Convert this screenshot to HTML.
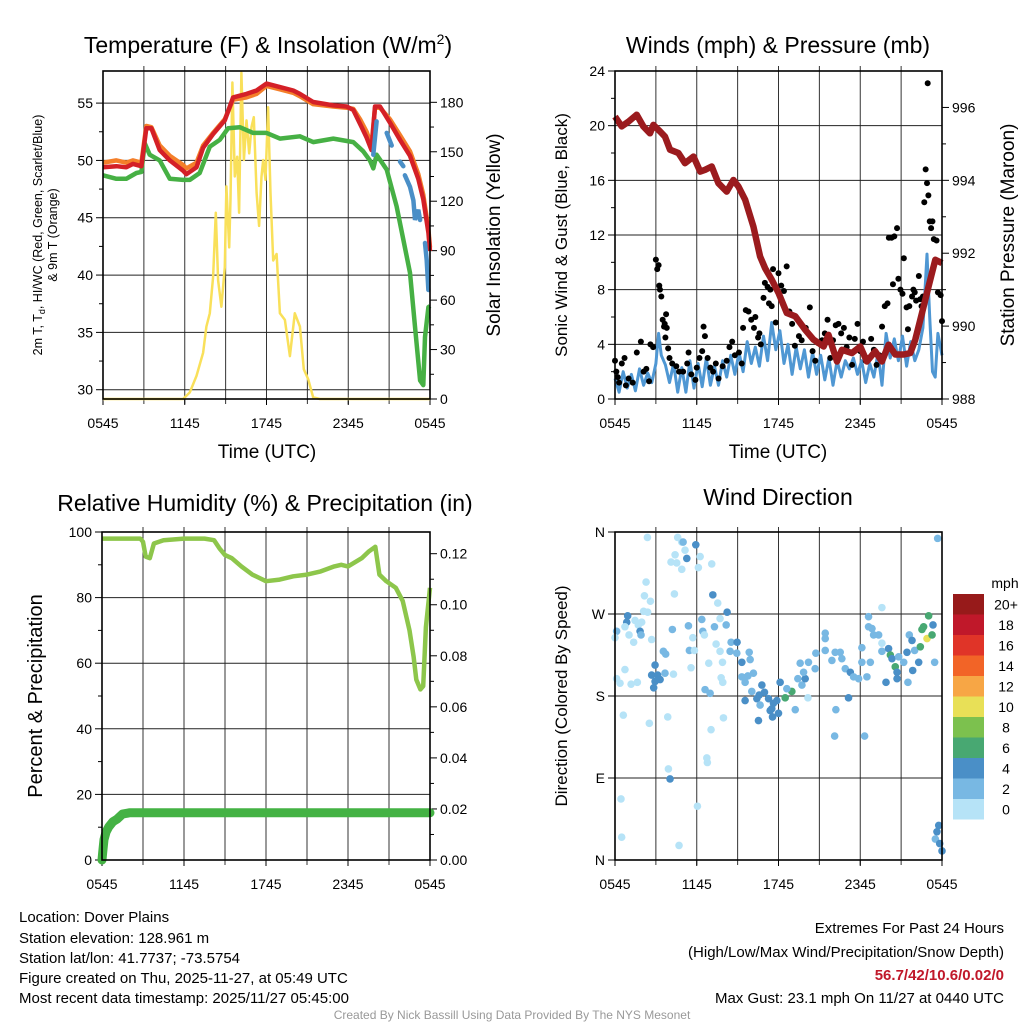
<!DOCTYPE html>
<html><head><meta charset="utf-8">
<style>
html,body{margin:0;padding:0;background:#fff;}
svg{display:block;font-family:"Liberation Sans",Arial,sans-serif;}
</style></head>
<body>
<svg id="chart" width="1024" height="1024" viewBox="0 0 1024 1024" xmlns="http://www.w3.org/2000/svg">
<rect width="1024" height="1024" fill="#fff"/>
<g id="layer"></g>
<text x="268" y="53" font-size="23" text-anchor="middle">Temperature (F) &amp; Insolation (W/m<tspan dy="-9" font-size="14">2</tspan><tspan dy="9">)</tspan></text>
<text x="778" y="53" font-size="23" text-anchor="middle">Winds (mph) &amp; Pressure (mb)</text>
<text x="265" y="511" font-size="23" text-anchor="middle">Relative Humidity (%) &amp; Precipitation (in)</text>
<text x="778" y="505" font-size="23" text-anchor="middle">Wind Direction</text>
<text x="267" y="458" font-size="19" text-anchor="middle">Time (UTC)</text>
<text x="778" y="458" font-size="19" text-anchor="middle">Time (UTC)</text>
<text transform="translate(42,235) rotate(-90)" font-size="12.5" text-anchor="middle">2m T, T<tspan dy="3" font-size="9">d</tspan><tspan dy="-3">, HI/WC (Red, Green, Scarlet/Blue)</tspan></text>
<text transform="translate(57,235) rotate(-90)" font-size="12.5" text-anchor="middle">&amp; 9m T (Orange)</text>
<text transform="translate(500,235) rotate(-90)" font-size="19" text-anchor="middle">Solar Insolation (Yellow)</text>
<text transform="translate(567,235) rotate(-90)" font-size="17" text-anchor="middle">Sonic Wind &amp; Gust (Blue, Black)</text>
<text transform="translate(1014,235) rotate(-90)" font-size="19" text-anchor="middle">Station Pressure (Maroon)</text>
<text transform="translate(42,696) rotate(-90)" font-size="20" text-anchor="middle">Percent &amp; Precipitation</text>
<text transform="translate(567,696) rotate(-90)" font-size="17" text-anchor="middle">Direction (Colored By Speed)</text>
<g font-size="15">
<text x="19" y="922">Location: Dover Plains</text>
<text x="19" y="943">Station elevation: 128.961 m</text>
<text x="19" y="963">Station lat/lon: 41.7737; -73.5754</text>
<text x="19" y="983">Figure created on Thu, 2025-11-27, at 05:49 UTC</text>
<text x="19" y="1003">Most recent data timestamp: 2025/11/27 05:45:00</text>
</g>
<g font-size="15" text-anchor="end">
<text x="1004" y="933">Extremes For Past 24 Hours</text>
<text x="1004" y="957">(High/Low/Max Wind/Precipitation/Snow Depth)</text>
<text x="1004" y="980" fill="#c0182a" font-weight="bold">56.7/42/10.6/0.02/0</text>
<text x="1004" y="1003">Max Gust: 23.1 mph On 11/27 at 0440 UTC</text>
</g>
<text x="512" y="1019" font-size="12" fill="#999" text-anchor="middle">Created By Nick Bassill Using Data Provided By The NYS Mesonet</text>
</svg>
<script>
// ---- data (hours after 0545 UTC) ----
const redH=[0,0.98,1.71,2.2,2.82,3.18,3.55,4.16,4.9,5.88,6.12,6.86,7.35,8.08,8.94,9.55,10.53,11.27,12,12.98,13.96,14.45,15.43,16.9,17.88,18.37,18.86,19.35,19.71,19.96,20.33,21.06,21.8,22.53,23.14,23.51,23.88,24];
const redT=[49.4,49.5,49.4,49.7,49.5,52.8,52.8,50.9,50.0,49.1,48.8,49.4,51.1,52.3,53.5,55.5,55.8,56.1,56.7,56.4,56.1,55.8,55.1,54.8,54.7,54.4,53.2,52.0,50.9,54.7,54.7,53.3,51.8,50.4,48.4,46.6,43.7,42.1];
const orangeT=[49.8,50.0,49.8,50.0,49.8,53.0,52.9,51.3,50.4,49.6,49.3,49.8,51.3,52.4,53.6,55.3,55.5,55.8,56.5,56.2,55.9,55.6,54.9,54.7,54.6,54.5,53.6,52.5,51.3,54.6,54.6,53.6,52.2,50.8,48.8,47.0,44.0,42.4];
const greenH=[0,0.98,1.71,2.45,2.82,3.06,3.43,4.16,4.9,5.88,6.37,7.1,7.84,8.57,9.18,10.04,11.02,12,12.98,14.45,15.43,16.9,18.37,19.1,19.59,19.84,20.08,20.82,21.55,22.04,22.53,22.9,23.27,23.51,23.63,23.88,24];
const greenT=[48.7,48.4,48.4,48.9,49.0,51.5,50.5,50.0,48.4,48.3,48.3,48.9,51.2,51.8,52.8,52.9,52.4,52.4,51.9,52.1,51.6,51.9,51.6,50.8,50.0,49.3,50.5,49.2,46.0,43.1,40.2,35.5,30.8,30.4,34.6,37.2,37.3];
const blueH=[19.84,20.08,null,20.82,21.19,null,21.8,22.04,null,22.16,22.53,22.78,22.9,23.14,23.27,null,23.63,23.76,23.88];
const blueT=[50.5,53.4,null,52.4,51.3,null,49.9,49.5,null,48.7,47.7,46.5,44.8,45.7,44.8,null,42.8,41.3,38.7];
const solarH=[0,5.88,6.37,6.86,7.35,7.59,7.84,8.08,8.28,8.45,8.69,8.94,9.06,9.26,9.36,9.5,9.67,9.85,9.99,10.16,10.34,10.53,10.73,10.9,11.07,11.27,11.46,11.63,11.76,11.93,12.12,12.29,12.49,12.74,12.98,13.35,13.72,14.08,14.45,14.74,15.06,15.43,15.92,24];
const solarW=[0,0,4,14,28,44,52,74,113,72,56,80,129,92,121,192,135,147,113,198,145,169,149,165,171,125,105,135,145,133,177,125,84,88,52,48,26,52,44,18,12,1,0,0];
const windH=[0,0.3,0.6,0.9,1.2,1.5,1.8,2.1,2.4,2.7,3.0,3.2,3.4,3.7,4.0,4.3,4.6,4.9,5.2,5.5,5.8,6.1,6.4,6.7,7.0,7.3,7.6,7.9,8.2,8.5,8.8,9.1,9.4,9.7,10.0,10.3,10.6,10.9,11.2,11.5,11.8,12.1,12.4,12.7,13,13.3,13.6,13.9,14.2,14.5,14.8,15.1,15.4,15.7,16,16.3,16.6,16.9,17.2,17.5,17.8,18.1,18.4,18.7,19,19.3,19.6,19.9,20.2,20.5,20.8,21.1,21.4,21.7,22,22.3,22.6,22.9,23.1,23.3,23.5,23.7,24];
const windS=[1.5,0.5,2,0.8,1.8,0.6,2.2,1.0,1.9,1.2,2.6,4.8,3.2,2.5,1.2,2.6,0.5,2.3,0.5,2.8,0.8,2.6,0.9,3.0,1.0,2.4,1.0,2.8,1.6,3.2,1.8,3.4,2.0,4.2,2.6,3.8,2.4,4.6,2.8,5.6,3.6,5.0,2.6,4.0,1.8,3.8,2.2,3.6,1.6,3.4,1.8,3.2,1.4,3.0,1.0,2.8,1.6,2.8,2.2,3.0,1.8,2.8,1.2,2.6,1.6,3.4,1.0,4.8,3.0,4.4,2.8,4.6,2.4,4.2,2.8,3.6,5.2,10.6,6.0,2.0,1.6,4.8,3.2];
const gustH=[0.0,0.1,0.2,0.3,0.5,0.7,0.8,1.0,1.3,1.6,1.9,2.1,2.3,2.5,2.6,2.8,3.0,3.1,3.2,3.25,3.3,3.4,3.5,3.6,3.65,3.7,3.75,3.8,3.9,4.0,4.2,4.5,4.7,5.0,5.3,5.4,5.6,5.9,6.0,6.2,6.4,6.5,6.6,6.8,7.0,7.2,7.4,7.6,7.9,8.2,8.4,8.6,8.8,9.1,9.3,9.4,9.6,9.8,10.0,10.2,10.3,10.5,10.6,10.7,10.9,11.0,11.2,11.3,11.4,11.5,11.6,11.8,12.0,12.2,12.4,12.6,12.8,13.0,13.2,13.5,13.7,14.0,14.3,14.5,14.7,14.9,15.2,15.4,15.6,15.8,16.0,16.2,16.4,16.6,16.8,17.0,17.2,17.4,17.6,17.8,18.0,18.2,18.4,18.6,18.8,19.0,19.2,19.4,19.6,19.8,20.0,20.1,20.3,20.4,20.5,20.7,20.8,20.95,21.1,21.2,21.4,21.5,21.6,21.8,21.9,22.0,22.1,22.3,22.4,22.5,22.6,22.7,22.8,22.9,22.95,23.0,23.1,23.2,23.3,23.4,23.6,23.7,23.9,24.0];
const gustS=[2.8,2.0,1.6,1.2,2.6,3.0,1.0,1.5,1.2,3.4,4.2,2.0,2.2,1.3,4.0,3.8,10.2,9.5,9.8,8.3,8.0,7.5,5.8,5.3,5.5,4.5,6.2,5.2,3.7,3.0,2.6,2.4,2.0,2.0,2.6,3.4,1.8,1.4,2.3,3.0,3.5,5.3,4.6,3.0,2.3,2.0,2.6,1.5,2.4,2.8,3.8,4.2,3.2,3.4,2.6,5.2,6.5,6.4,5.8,5.2,6.0,4.5,4.8,4.0,7.4,8.5,8.2,7.0,8.0,6.8,9.5,5.6,9.2,8.3,7.9,9.7,6.4,5.5,3.9,4.6,4.3,5.2,6.7,3.5,2.8,4.1,4.3,4.8,5.8,3.0,4.3,5.4,5.5,4.8,5.2,3.8,4.5,2.5,4.4,5.5,3.5,4.2,2.8,3.0,4.4,3.6,2.5,3.2,5.3,6.8,7.0,11.8,11.8,8.4,11.9,12.5,8.8,8.0,7.7,10.3,6.7,5.1,6.8,7.5,8.0,7.8,7.2,9.0,7.3,6.8,7.5,14.4,16.8,15.8,23.1,14.9,13.0,12.5,13.0,11.7,11.6,7.8,7.6,5.7];
const presH=[0,0.49,0.98,1.59,2.08,2.57,2.82,3.31,3.67,4.04,4.65,5.14,5.76,6.25,6.61,7.1,7.59,8.2,8.69,9.06,9.55,10.16,10.65,11.02,11.51,12,12.61,13.23,13.96,14.57,15.31,15.67,16.29,16.65,17.39,18,18.49,19.1,19.59,20.08,20.57,21.19,21.67,22.04,22.53,23.02,23.51,24];
const presMb=[995.75,995.48,995.61,995.8,995.48,995.29,995.52,995.34,995.2,994.84,994.75,994.47,994.65,994.24,994.29,994.38,993.92,993.69,994.01,993.83,993.47,992.73,991.91,991.59,991.27,990.91,990.36,990.27,989.9,989.63,989.44,989.76,989.03,989.35,989.26,989.44,989.03,989.31,989.03,989.49,989.22,989.22,989.26,989.63,990.36,991.09,991.82,991.73];
const rhH=[0,1,2,2.8,3.0,3.2,3.5,3.8,4.5,6,7.5,8.2,8.6,9,9.5,10.2,11,11.5,12,13,14,15,16,17,17.5,18,19,19.5,20,20.3,20.8,21.5,22,22.5,22.8,23,23.3,23.5,23.7,24];
const rhP=[98,98,98,98,97,92.5,92,96.5,97.5,98,98,97.5,95,93,92,89.5,87,86,85,85.5,86.5,87,88,89.5,90,89.5,92,94,95.5,87,85,83,79,70,62,55,52,53,71,83];
const precH=[0,0.05,0.15,0.3,0.5,0.8,1.1,1.5,2.0,24];
const precIn=[0,0.003,0.008,0.011,0.013,0.015,0.016,0.018,0.0185,0.0185];
const dirH=[2.38,4.6,4.9,5.14,5.0,5.93,4.41,5.27,6.25,4.11,4.53,4.9,6.12,7.1,2.28,4.36,2.16,2.6,7.18,7.54,8.23,2.4,2.1,0.93,0.86,1.47,1.96,0.73,1.71,0.12,0,1.03,1.84,1.91,1.37,2.69,4.21,5.39,6.37,7.3,7.71,8.16,6.44,6.56,5.71,7.42,8.52,8.96,8.45,8.94,5.46,5.83,3.55,3.72,7.71,9.31,9.85,9.92,2.94,6.88,7.89,5.58,0.73,2.69,3.13,3.31,3.67,4.29,2.94,0.12,0.37,1.18,1.64,2.84,7.79,7.91,9.31,9.75,10.16,9.55,6.61,6.98,10.04,10.41,10.58,9.55,10.78,10.97,11.27,11.63,12.12,11.88,11.51,11.39,12.0,11.56,10.53,10.65,12.49,12.98,12.61,13.23,13.42,13.72,13.96,14.16,13.84,13.59,14.2,14.69,14.74,15.43,15.43,15.43,15.92,16.16,16.53,16.65,16.9,17.27,17.51,17.88,18.12,18.12,18.49,18.74,19.59,18.61,18.61,18.86,18.98,19.35,19.59,19.59,20.08,20.21,20.33,20.57,20.7,20.82,21.19,21.43,21.6,21.8,21.85,21.99,22.29,22.41,22.53,22.65,23.02,22.9,23.27,23.34,23.46,19.89,20.7,21.5,17.14,16.21,16.12,18.32,3.92,4.04,6.74,6.78,7.96,7.05,3.87,2.52,0.61,0.44,0.49,4.7,6.05,23.68,23.76,23.63,23.51,23.83,24];
const dirDeg=[354,354,349,340,349,346,335,331,333,327,326,319,321,325,305,292,290,284,291,282,272,272,273,268,261,263,261,256,258,251,244,247,251,247,239,242,253,257,264,256,265,258,251,247,244,237,239,239,229,227,230,230,229,226,229,217,228,220,214,216,217,211,209,203,203,198,205,204,196,199,194,193,195,189,200,195,201,202,205,195,187,183,185,177,181,175,192,184,177,172,195,175,166,164,161,157,153,170,178,185,188,165,199,192,199,178,206,216,217,210,227,230,249,243,219,228,228,221,210,206,201,199,233,217,201,217,277,267,256,254,247,247,238,229,232,225,221,212,206,223,217,228,247,241,208,230,217,234,253,256,268,243,247,258,217,195,199,195,178,165,136,136,100,89,112,107,156,143,157,150,159,67,25,16,59,353,38,31,23,18,10];
const dirSpd=[1,1,1,1,3,5,1,5,1,1,1,1,1,1,1,1,1,1,5,1,5,1,1,5,5,1,1,1,1,3,1,1,5,3,1,1,3,3,3,3,1,3,3,1,1,1,3,5,3,3,3,1,3,3,1,5,3,3,5,1,1,1,1,5,5,5,3,1,5,1,1,1,1,5,1,1,3,3,3,3,3,3,3,5,5,5,5,5,5,5,5,5,5,5,5,5,5,3,7,7,3,3,3,3,5,1,3,3,3,3,3,3,3,3,3,3,3,3,3,5,3,3,3,3,3,3,1,3,3,3,3,3,1,3,5,7,5,7,5,3,3,5,3,5,5,3,5,7,7,7,7,10,7,5,3,5,5,3,5,3,3,3,1,5,1,1,1,1,1,1,1,1,1,1,1,3,5,5,3,5,5];
const cbLabels=["20+","18","16","14","12","10","8","6","4","2","0"];
const cbColors=["#971a1a","#c0182a","#e03428","#f26427","#f7a645","#e8e057","#7cc14e","#48a872","#4a8fc7","#78b8e3","#b6e3f7"];
const xTickLabels=["0545","1145","1745","2345","0545"];
const tTicks=[30,35,40,45,50,55];
const solarTicks=[0,30,60,90,120,150,180];
const windTicks=[0,4,8,12,16,20,24];
const presTicks=[988,990,992,994,996];
const rhTicks=[0,20,40,60,80,100];
const precTicks=[0,0.02,0.04,0.06,0.08,0.10,0.12];
const dirTicks=["N","E","S","W","N"];

const NS="http://www.w3.org/2000/svg";
const layer=document.getElementById('layer');
function mk(tag,attrs,parent){const e=document.createElementNS(NS,tag);for(const k in attrs)e.setAttribute(k,attrs[k]);(parent||layer).appendChild(e);return e;}
function lin(d0,d1,r0,r1){return v=>r0+(v-d0)/(d1-d0)*(r1-r0);}
function pathOf(xs,ys,fx,fy){let d="",pen=false;for(let i=0;i<xs.length;i++){if(xs[i]===null||ys[i]===null){pen=false;continue;}d+=(pen?"L":"M")+fx(xs[i]).toFixed(1)+","+fy(ys[i]).toFixed(1);pen=true;}return d;}

function frame(name,x0,y0,x1,y1){
  const g=mk('g',{});
  
  
  const xs=lin(0,24,x0,x1);
  for(let h=3;h<24;h+=3){const l=mk('line',{x1:xs(h),x2:xs(h),y1:y0-5,y2:y1+5,stroke:'#333','stroke-width':1},g);}
  xTickLabels.forEach((t,i)=>{const e=mk('text',{x:xs(i*6),y:y1+29,'font-size':14,'text-anchor':'middle'},g);e.textContent=t;
    mk('line',{x1:xs(i*6),x2:xs(i*6),y1:y1,y2:y1+6,stroke:'#000'},g);});
  return g;
}
function yAxis(g,ticks,labels,fy,x0,x1,side,grid,minorStep){
  ticks.forEach((v,i)=>{const y=fy(v);
    if(side==='l'){mk('line',{x1:x0-7,x2:x0,y1:y,y2:y,stroke:'#000'},g);
      if(grid)mk('line',{x1:x0,x2:x1,y1:y,y2:y,stroke:'#222','stroke-width':1},g);
      const t=mk('text',{x:x0-10,y:y+5,'font-size':14,'text-anchor':'end'},g);t.textContent=labels[i];}
    else{mk('line',{x1:x1,x2:x1+7,y1:y,y2:y,stroke:'#000'},g);
      const t=mk('text',{x:x1+10,y:y+5,'font-size':14,'text-anchor':'start'},g);t.textContent=labels[i];}
  });
  if(minorStep){for(let v=ticks[0]+minorStep;v<ticks[ticks.length-1];v+=ticks[1]-ticks[0]){const y=fy(v);
    if(side==='l')mk('line',{x1:x0-4,x2:x0,y1:y,y2:y,stroke:'#000'},g);else mk('line',{x1:x1,x2:x1+4,y1:y,y2:y,stroke:'#000'},g);}}
}
function box(g,x0,y0,x1,y1){mk('rect',{x:x0,y:y0,width:x1-x0,height:y1-y0,fill:'none',stroke:'#000','stroke-width':1.6},g);}

// Panel 1
(function(){
  const x0=103,x1=430,y0=71,y1=399;
  const g=frame('temperature-panel',x0,y0,x1,y1);
  const fx=lin(0,24,x0,x1),fy=lin(29.19,57.8,y1,y0),fs=lin(0,199,y1,y0);
  yAxis(g,tTicks,tTicks.map(String),fy,x0,x1,'l',true,2.5);
  yAxis(g,solarTicks,solarTicks.map(String),fs,x0,x1,'r',false,15);
  let p=mk('path',{d:pathOf(solarH,solarW,fx,fs),fill:'none',stroke:'#f9e05a','stroke-width':2.5,'stroke-linejoin':'round'},g);
  
  p=mk('path',{d:pathOf(greenH,greenT,fx,fy),fill:'none',stroke:'#46b044','stroke-width':4.5,'stroke-linejoin':'round'},g);
  
  p=mk('path',{d:pathOf(redH,orangeT,fx,fy),fill:'none',stroke:'#f47f2a','stroke-width':4.5,'stroke-linejoin':'round'},g);
  
  p=mk('path',{d:pathOf(redH,redT,fx,fy),fill:'none',stroke:'#d42027','stroke-width':4.5,'stroke-linejoin':'round'},g);
  
  p=mk('path',{d:pathOf(blueH,blueT,fx,fy),fill:'none',stroke:'#4a8fc7','stroke-width':4.5,'stroke-linecap':'round'},g);
  
  box(g,x0,y0,x1,y1);
})();

// Panel 2
(function(){
  const x0=615,x1=942,y0=71,y1=399;
  const g=frame('wind-panel',x0,y0,x1,y1);
  const fx=lin(0,24,x0,x1),fy=lin(0,24,y1,y0),fp=lin(988,997,y1,y0);
  yAxis(g,windTicks,windTicks.map(String),fy,x0,x1,'l',true,2);
  yAxis(g,presTicks,presTicks.map(String),fp,x0,x1,'r',false,1);
  let p=mk('path',{d:pathOf(windH,windS,fx,fy),fill:'none',stroke:'#4f97d3','stroke-width':3,'stroke-linejoin':'round'},g);
  
  gustH.forEach((h,i)=>{const c=mk('circle',{cx:fx(h),cy:fy(gustS[i]),r:3,fill:'#000'},g);
    });
  p=mk('path',{d:pathOf(presH,presMb,fx,fp),fill:'none',stroke:'#9b1b1e','stroke-width':6.5,'stroke-linejoin':'round'},g);
  
  box(g,x0,y0,x1,y1);
})();

// Panel 3
(function(){
  const x0=102,x1=430,y0=532,y1=860;
  const g=frame('humidity-panel',x0,y0,x1,y1);
  const fx=lin(0,24,x0,x1),fy=lin(0,100,y1,y0),fp=lin(0,0.1285,y1,y0);
  yAxis(g,rhTicks,rhTicks.map(String),fy,x0,x1,'l',true,10);
  yAxis(g,precTicks,precTicks.map(v=>v.toFixed(2)),fp,x0,x1,'r',false,0.01);
  let p=mk('path',{d:pathOf(rhH,rhP,fx,fy),fill:'none',stroke:'#8dc64b','stroke-width':4.5,'stroke-linejoin':'round'},g);
  
  p=mk('path',{d:pathOf(precH,precIn,fx,fp),fill:'none',stroke:'#44b244','stroke-width':9,'stroke-linejoin':'round','stroke-linecap':'round'},g);
  
  box(g,x0,y0,x1,y1);
})();

// Panel 4
(function(){
  const x0=615,x1=942,y0=532,y1=860;
  const g=frame('direction-panel',x0,y0,x1,y1);
  const fx=lin(0,24,x0,x1),fy=lin(0,360,y1,y0);
  yAxis(g,[0,90,180,270,360],dirTicks,fy,x0,x1,'l',true,0);
  function col(s){const idx=Math.min(10,Math.floor(s/2));return cbColors[10-idx];}
  dirH.forEach((h,i)=>{const c=mk('circle',{cx:fx(h),cy:fy(dirDeg[i]),r:3.8,fill:col(dirSpd[i])},g);
    });
  box(g,x0,y0,x1,y1);
  const cb=mk('g',{});
  
  
  const t=mk('text',{x:1005,y:588,'font-size':14,'text-anchor':'middle'},cb);t.textContent='mph';
  cbColors.forEach((c,i)=>{const y=594+i*20.5;mk('rect',{x:953,y:y,width:31,height:20.5,fill:c},cb);
    const l=mk('text',{x:1006,y:y+15.5,'font-size':14,'text-anchor':'middle'},cb);l.textContent=cbLabels[i];
    });
})();
</script>
</body></html>
